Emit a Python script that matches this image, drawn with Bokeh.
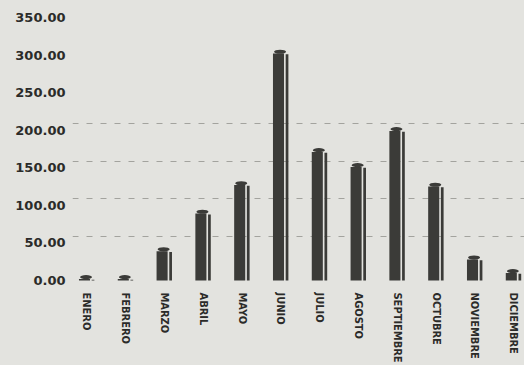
from bokeh.plotting import figure
from bokeh.models import Range1d, FixedTicker, NumeralTickFormatter
from bokeh.embed import file_html
from bokeh.resources import INLINE

# Monthly totals
months = ["ENERO", "FEBRERO", "MARZO", "ABRIL", "MAYO", "JUNIO",
          "JULIO", "AGOSTO", "SEPTIEMBRE", "OCTUBRE", "NOVIEMBRE", "DICIEMBRE"]
values = [2, 2, 39, 89, 127, 302, 171, 151, 199, 125, 28, 10]
y_ticks = [0, 50, 100, 150, 200, 250, 300, 350]
grid_values = [50, 100, 150, 200]

BG = "#e3e3df"
BAR = "#3b3b38"
INK = "#2b2b29"

xs = list(range(len(months)))

p = figure(width=524, height=365, output_backend="svg", toolbar_location=None,
           x_range=Range1d(-0.369, 11.28), y_range=Range1d(-4.0, 366.0),
           min_border_left=72, min_border_right=0, min_border_top=5,
           min_border_bottom=81)
# one continuous page-coloured backdrop behind frame and borders
p.styles = {"background-color": BG}
p.border_fill_alpha = 0
p.background_fill_alpha = 0
p.outline_line_color = None
p.xgrid.grid_line_color = None
p.ygrid.grid_line_color = None

# back-wall gridlines, lifted slightly for the 3D depth of the chart
depth = 8.6
p.hspan(y=[g + depth for g in grid_values], line_color="#55554f",
        line_alpha=0.45, line_width=1, line_dash="6 8")

# cylinder bars: body, narrow side strip, elliptical cap
body_x = [x - 0.06 for x in xs]
strip_x = [x + 0.16 for x in xs]
cap_x = [x - 0.02 for x in xs]
p.vbar(x=body_x, top=values, bottom=0, width=0.285, fill_color=BAR,
       line_color=None)
p.vbar(x=strip_x, top=[max(v - 1, 0) for v in values], bottom=0, width=0.07,
       fill_color=BAR, line_color=None)
p.ellipse(x=cap_x, y=[v + 2.5 for v in values], width=0.31, height=5.5,
          fill_color=BAR, line_color=None)

# y axis
p.yaxis.ticker = FixedTicker(ticks=y_ticks)
p.yaxis.formatter = NumeralTickFormatter(format="0.00")
p.yaxis.axis_line_color = None
p.yaxis.major_tick_line_color = None
p.yaxis.minor_tick_line_color = None
p.yaxis.major_tick_out = 0
p.yaxis.major_label_standoff = 7
p.yaxis.major_label_text_font = "DejaVu Sans"
p.yaxis.major_label_text_font_style = "bold"
p.yaxis.major_label_text_font_size = "13px"
p.yaxis.major_label_text_color = INK

# x axis with vertical month names
p.xaxis.ticker = FixedTicker(ticks=xs)
p.xaxis.major_label_overrides = {x: m for x, m in zip(xs, months)}
p.xaxis.major_label_orientation = "vertical"
p.xaxis.axis_line_color = None
p.xaxis.major_tick_line_color = None
p.xaxis.minor_tick_line_color = None
p.xaxis.major_tick_out = 0
p.xaxis.major_label_standoff = 9
p.xaxis.major_label_text_font = "DejaVu Sans Condensed"
p.xaxis.major_label_text_font_style = "bold"
p.xaxis.major_label_text_font_size = "11px"
p.xaxis.major_label_text_color = INK

open("out.html", "w").write(file_html(p, INLINE))
